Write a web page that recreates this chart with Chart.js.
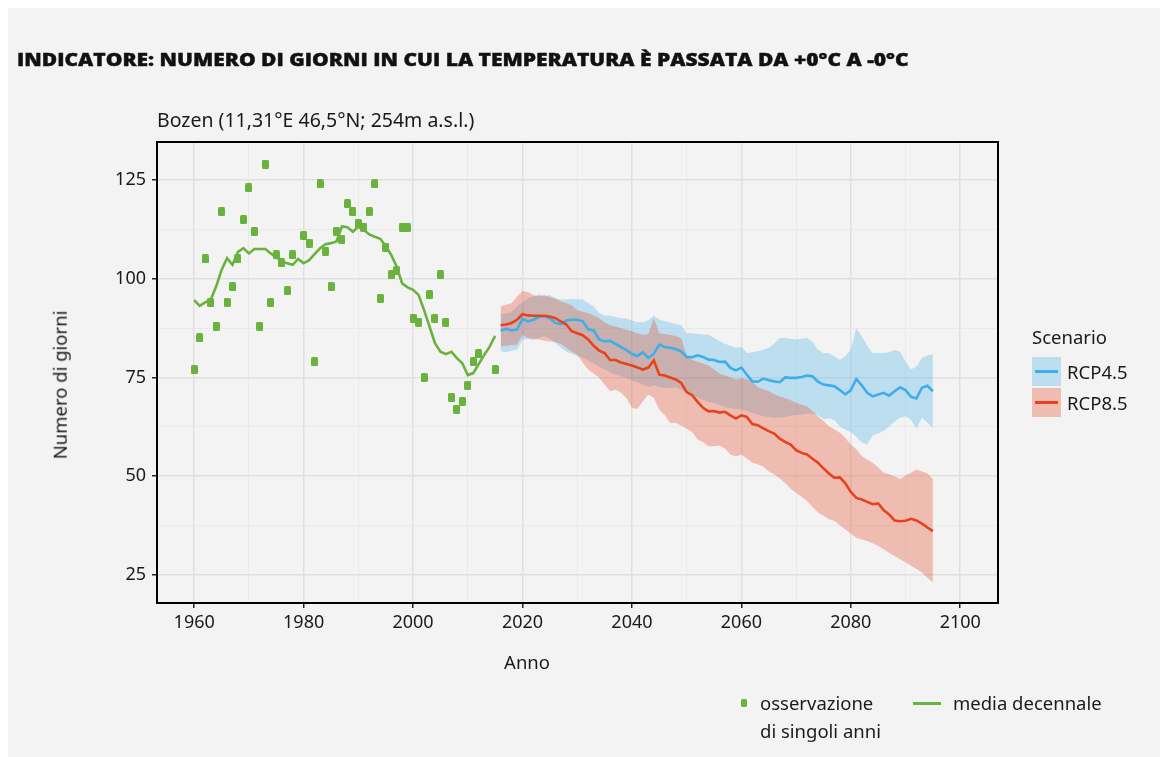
<!DOCTYPE html>
<html lang="it">
<head>
<meta charset="UTF-8">
<title>Giorni con passaggio da +0°C a -0°C – Bozen</title>
<script src="https://cdn.jsdelivr.net/npm/chart.js@4.4.1/dist/chart.umd.min.js"></script>
<style>
  body { margin: 0; background: #fff; font-family: "Noto Sans", sans-serif; color: #1a1a1a; }
  #panel { position: absolute; left: 8px; top: 8px; width: 1152px; height: 749px; background: #f3f3f3; }
  #wrap { position: absolute; left: 0; top: 0; width: 1163px; height: 757px; }
  #chart { position: absolute; left: 0; top: 0; }
  .txt { position: absolute; white-space: nowrap; font-size: 18.5px; line-height: 1; }
  .c { transform: translate(-50%, -50%); }
  .title { left: 17px; top: 50px; font-family: "Open Sans", sans-serif; font-weight: 800; font-size: 18px; color: #111;
           -webkit-text-stroke: 0.4px #111; transform: scaleX(1.165); transform-origin: left center; }
  .key { position: absolute; width: 29px; height: 29px; }
  .key span { position: absolute; left: 3px; right: 3px; top: 13px; height: 2.5px; }
</style>
</head>
<body>
<div id="panel"></div>
<div id="wrap">
  <canvas id="chart" width="1163" height="757"></canvas>

  <div class="txt title">INDICATORE: NUMERO DI GIORNI IN CUI LA TEMPERATURA È PASSATA DA +0°C A -0°C</div>
  <div class="txt" style="left:157px; top:110px; font-size:19.5px;">Bozen (11,31°E 46,5°N; 254m a.s.l.)</div>
  <div class="txt c" style="left:60px; top:385px; transform: translate(-50%,-50%) rotate(-90deg);">Numero di giorni</div>
  <div class="txt c" style="left:527px; top:662px;">Anno</div>

  <!-- scenario legend -->
  <div class="txt" style="left:1032px; top:328px;">Scenario</div>
  <div class="key" style="left:1032px; top:357px; background: rgba(66,176,233,0.3);"><span style="background:#3daee9"></span></div>
  <div class="txt" style="left:1067px; top:363px;">RCP4.5</div>
  <div class="key" style="left:1032px; top:388px; background: rgba(232,64,28,0.3);"><span style="background:#e8421c"></span></div>
  <div class="txt" style="left:1067px; top:394px;">RCP8.5</div>

  <!-- series legend -->
  <div style="position:absolute; left:741px; top:699px; width:6px; height:8px; border-radius:1.5px; background:#6ab23e;"></div>
  <div class="txt" style="left:760px; top:694px;">osservazione</div>
  <div class="txt" style="left:760px; top:722px;">di singoli anni</div>
  <div style="position:absolute; left:913px; top:702px; width:28px; height:2.5px; background:#6ab23e;"></div>
  <div class="txt" style="left:953px; top:694px;">media decennale</div>
</div>

<script>
// single-year observations (1979, 2013, 2014 missing)
const obsYears = [1960, 1961, 1962, 1963, 1964, 1965, 1966, 1967, 1968, 1969,
  1970, 1971, 1972, 1973, 1974, 1975, 1976, 1977, 1978,
  1980, 1981, 1982, 1983, 1984, 1985, 1986, 1987, 1988, 1989,
  1990, 1991, 1992, 1993, 1994, 1995, 1996, 1997, 1998, 1999,
  2000, 2001, 2002, 2003, 2004, 2005, 2006, 2007, 2008, 2009,
  2010, 2011, 2012, 2015];
const obsValues = [77, 85, 105, 94, 88, 117, 94, 98, 105, 115,
  123, 112, 88, 129, 94, 106, 104, 97, 106,
  111, 109, 79, 124, 107, 98, 112, 110, 119, 117,
  114, 113, 117, 124, 95, 108, 101, 102, 113, 113,
  90, 89, 75, 96, 90, 101, 89, 70, 67, 69,
  73, 79, 81, 77];

// ten-year running mean, 1960-2015
const meanStart = 1960;
const meanValues = [94.6, 93.1, 94.0, 94.6, 98.0, 102.2, 105.2, 103.5, 106.8, 107.7,
  106.4, 107.5, 107.5, 107.5, 106.4, 105.4, 104.3, 103.9, 103.5, 105.0,
  103.9, 104.7, 106.2, 107.7, 108.7, 109.0, 109.4, 113.2, 113.0, 111.9,
  113.2, 112.3, 111.2, 110.6, 110.1, 108.3, 106.0, 103.1, 98.8, 97.8,
  97.2, 95.9, 92.1, 87.9, 83.7, 81.5, 80.9, 81.5, 79.9, 78.6,
  75.6, 76.1, 78.4, 80.7, 82.8, 85.5];

// scenario projections, 2016-2095
const scenStart = 2016;
const rcp45Mean = [86.9, 87.3, 86.9, 87.1, 89.8, 89.2, 89.6, 90.3, 90.5, 90.0,
  88.8, 88.5, 89.4, 89.6, 89.6, 89.2, 87.2, 86.9, 84.6, 84.1,
  84.3, 83.5, 82.7, 81.9, 81.0, 80.4, 81.4, 79.9, 81.0, 83.3,
  82.7, 82.5, 82.2, 81.6, 80.2, 80.1, 80.6, 80.2, 79.5, 79.4,
  78.9, 79.0, 77.4, 76.8, 77.5, 75.7, 74.0, 73.9, 74.7, 74.3,
  74.0, 73.8, 75.0, 74.9, 74.9, 75.1, 75.5, 75.3, 73.9, 73.2,
  73.0, 72.8, 71.8, 70.7, 71.8, 74.6, 73.0, 71.1, 70.2, 70.7,
  71.1, 70.4, 71.5, 72.5, 71.8, 70.1, 69.7, 72.4, 72.9, 71.5];
const rcp45Max = [91.0, 91.2, 91.5, 93.0, 94.0, 95.1, 95.5, 96.1, 95.5, 95.9,
  95.1, 94.7, 94.7, 94.9, 94.7, 94.7, 93.8, 93.0, 91.3, 90.7,
  90.6, 90.3, 90.0, 89.9, 89.4, 89.0, 89.0, 89.5, 90.6, 89.6,
  89.2, 88.9, 88.6, 88.2, 86.2, 86.2, 86.0, 85.9, 85.8, 85.0,
  84.2, 83.5, 83.0, 82.5, 82.8, 81.2, 81.4, 81.6, 82.0, 82.5,
  83.5, 85.0, 85.0, 84.8, 84.6, 84.8, 85.0, 84.0, 82.0, 81.2,
  81.2, 80.3, 79.5, 80.4, 82.0, 87.5, 85.5, 83.0, 81.2, 81.2,
  81.2, 81.4, 82.0, 81.5, 79.0, 77.0, 77.8, 79.9, 80.6, 80.8];
const rcp45Min = [81.6, 81.4, 81.8, 82.0, 84.5, 84.8, 84.5, 85.0, 85.5, 84.8,
  83.8, 82.5, 81.5, 81.0, 80.5, 80.0, 79.3, 78.6, 77.8, 77.0,
  76.3, 75.7, 75.3, 74.8, 74.2, 73.8, 73.2, 72.6, 73.0, 72.5,
  72.3, 72.3, 72.5, 72.0, 71.0, 70.5, 70.0, 69.3, 68.8, 68.6,
  68.0, 67.5, 67.2, 67.0, 66.9, 66.5, 66.0, 65.6, 65.2, 65.0,
  64.8, 64.8, 65.0, 65.3, 65.5, 65.6, 65.8, 65.9, 65.5, 64.5,
  64.6, 64.2, 62.5, 61.8, 61.2, 60.0, 58.5, 58.0, 60.3, 60.8,
  61.5, 62.5, 63.8, 64.8, 65.2, 64.2, 62.0, 64.8, 63.5, 62.2];
const rcp85Mean = [88.2, 88.4, 88.8, 89.6, 91.0, 90.7, 90.6, 90.6, 90.6, 90.4,
  90.0, 89.2, 88.4, 86.7, 86.2, 85.7, 84.6, 83.0, 81.8, 81.2,
  79.4, 79.4, 78.8, 78.4, 78.0, 77.5, 77.0, 77.5, 79.3, 75.7,
  75.5, 75.0, 74.5, 73.6, 71.3, 70.5, 68.8, 67.3, 66.4, 66.5,
  66.1, 66.3, 65.4, 64.6, 65.4, 65.0, 63.2, 62.9, 62.1, 61.4,
  60.8, 59.5, 58.7, 58.0, 56.6, 55.9, 55.5, 54.4, 53.4, 52.0,
  50.7, 49.6, 49.7, 48.2, 46.0, 44.5, 44.1, 43.5, 42.9, 43.1,
  41.4, 40.3, 38.8, 38.6, 38.7, 39.2, 38.8, 38.0, 37.0, 36.1];
const rcp85Max = [93.0, 93.4, 93.8, 95.5, 96.9, 96.6, 95.8, 95.5, 95.9, 95.3,
  94.9, 94.2, 93.8, 93.2, 92.1, 91.6, 91.3, 90.7, 90.0, 89.0,
  88.2, 87.9, 87.5, 87.1, 86.7, 86.2, 85.8, 86.0, 90.0, 86.2,
  86.0, 85.8, 85.4, 85.0, 80.5, 79.5, 79.0, 78.5, 78.0, 77.0,
  76.0, 75.5, 75.0, 74.5, 74.8, 74.5, 74.0, 72.5, 72.0, 71.5,
  70.8, 70.2, 69.8, 69.2, 68.6, 68.1, 67.7, 66.5, 65.2, 64.0,
  62.7, 61.8, 61.0, 59.7, 58.0, 56.8, 55.1, 54.2, 53.4, 52.2,
  50.9, 50.5, 50.0, 49.3, 50.2, 50.9, 51.7, 51.2, 50.7, 49.2];
const rcp85Min = [82.9, 83.0, 83.2, 83.3, 85.8, 85.0, 84.8, 84.6, 84.3, 84.1,
  84.0, 83.5, 82.5, 81.5, 80.8, 78.7, 77.0, 76.0, 74.9, 73.2,
  71.5, 71.9, 71.1, 69.8, 67.3, 67.0, 69.0, 70.7, 69.8, 66.9,
  65.4, 63.4, 63.5, 62.8, 62.0, 61.2, 59.3, 58.6, 57.6, 57.6,
  57.8, 57.0, 55.5, 55.0, 55.4, 54.5, 53.4, 53.0, 52.4, 51.2,
  50.5, 49.4, 48.3, 46.8, 45.8, 44.8, 43.7, 42.2, 40.8, 40.0,
  39.1, 38.7, 37.6, 36.5, 35.5, 34.4, 34.0, 33.6, 33.0, 32.3,
  31.5, 30.6, 29.8, 29.0, 28.2, 27.3, 26.5, 25.6, 24.3, 23.1];

// axis ticks: gridlines every 10 years / 12.5 days, labels on the major ones
const xGridYears = [1960, 1970, 1980, 1990, 2000, 2010, 2020, 2030, 2040, 2050, 2060, 2070, 2080, 2090, 2100];
const xLabelYears = [1960, 1980, 2000, 2020, 2040, 2060, 2080, 2100];
const yGridValues = [25, 37.5, 50, 62.5, 75, 87.5, 100, 112.5, 125];
const yLabelValues = [25, 50, 75, 100, 125];

const GREEN = '#6ab23e';
const BLUE = '#3daee9';
const RED = '#e8421c';

function series(start, values) {
  return values.map((v, i) => ({ x: start + i, y: v }));
}

// small upright rounded block used for the yearly observations
function makeMarker(w, h, color) {
  const c = document.createElement('canvas');
  c.width = w; c.height = h;
  const g = c.getContext('2d');
  g.fillStyle = color;
  g.beginPath();
  if (g.roundRect) g.roundRect(0, 0, w, h, 1.5); else g.rect(0, 0, w, h);
  g.fill();
  return c;
}
const obsMarker = makeMarker(7, 9, GREEN);

// panel frame drawn over the data, like the original plot border
const frame = {
  id: 'frame',
  afterDraw(chart) {
    const { ctx, chartArea: a } = chart;
    ctx.save();
    ctx.strokeStyle = '#000';
    ctx.lineWidth = 2;
    ctx.strokeRect(a.left, a.top, a.right - a.left, a.bottom - a.top);
    ctx.restore();
  }
};

const lineDefaults = { showLine: true, pointRadius: 0, borderWidth: 2.6, tension: 0, fill: false };
const bandDefaults = { showLine: true, pointRadius: 0, borderWidth: 0, borderColor: 'transparent', tension: 0 };
const tickFont = { family: 'Noto Sans', size: 18 };

new Chart(document.getElementById('chart'), {
  type: 'scatter',
  data: {
    datasets: [
      { label: 'osservazione di singoli anni', order: 0,
        data: obsValues.map((v, i) => ({ x: obsYears[i], y: v })),
        pointStyle: obsMarker, showLine: false },
      { label: 'media decennale', order: 1, ...lineDefaults,
        data: series(meanStart, meanValues), borderColor: GREEN },
      { label: 'RCP8.5', order: 2, ...lineDefaults,
        data: series(scenStart, rcp85Mean), borderColor: RED },
      { label: 'RCP4.5', order: 3, ...lineDefaults,
        data: series(scenStart, rcp45Mean), borderColor: BLUE },
      { label: 'RCP8.5 max', order: 4, ...bandDefaults, fill: 5,
        data: series(scenStart, rcp85Max), backgroundColor: 'rgba(232,64,28,0.3)' },
      { label: 'RCP8.5 min', order: 4, ...bandDefaults, fill: false,
        data: series(scenStart, rcp85Min) },
      { label: 'RCP4.5 max', order: 5, ...bandDefaults, fill: 7,
        data: series(scenStart, rcp45Max), backgroundColor: 'rgba(66,176,233,0.3)' },
      { label: 'RCP4.5 min', order: 5, ...bandDefaults, fill: false,
        data: series(scenStart, rcp45Min) }
    ]
  },
  options: {
    responsive: false,
    animation: false,
    events: [],
    layout: { padding: { top: 142, right: 165, left: 0, bottom: 0 } },
    plugins: { legend: { display: false }, tooltip: { enabled: false } },
    scales: {
      x: {
        type: 'linear', min: 1953.2, max: 2106.9,
        afterBuildTicks: s => { s.ticks = xGridYears.map(v => ({ value: v })); },
        afterFit: s => { s.height = 154; },
        border: { display: false },
        grid: {
          color: c => xLabelYears.includes(c.tick.value) ? '#e0e0e0' : '#e9e9e9',
          lineWidth: c => xLabelYears.includes(c.tick.value) ? 1.5 : 1,
          tickColor: c => xLabelYears.includes(c.tick.value) ? '#222' : 'transparent',
          tickLength: 5, tickWidth: 1.5
        },
        ticks: {
          autoSkip: false, maxRotation: 0, padding: 4, color: '#1a1a1a',
          font: tickFont,
          callback: v => xLabelYears.includes(v) ? String(v) : ''
        }
      },
      y: {
        type: 'linear', min: 17.9, max: 134.6,
        afterBuildTicks: s => { s.ticks = yGridValues.map(v => ({ value: v })); },
        afterFit: s => { s.width = 157; },
        border: { display: false },
        grid: {
          color: c => yLabelValues.includes(c.tick.value) ? '#e0e0e0' : '#e9e9e9',
          lineWidth: c => yLabelValues.includes(c.tick.value) ? 1.5 : 1,
          tickColor: c => yLabelValues.includes(c.tick.value) ? '#222' : 'transparent',
          tickLength: 5, tickWidth: 1.5
        },
        ticks: {
          autoSkip: false, padding: 6, color: '#1a1a1a',
          font: tickFont,
          callback: v => yLabelValues.includes(v) ? String(v) : ''
        }
      }
    }
  },
  plugins: [frame]
});
</script>
</body>
</html>
